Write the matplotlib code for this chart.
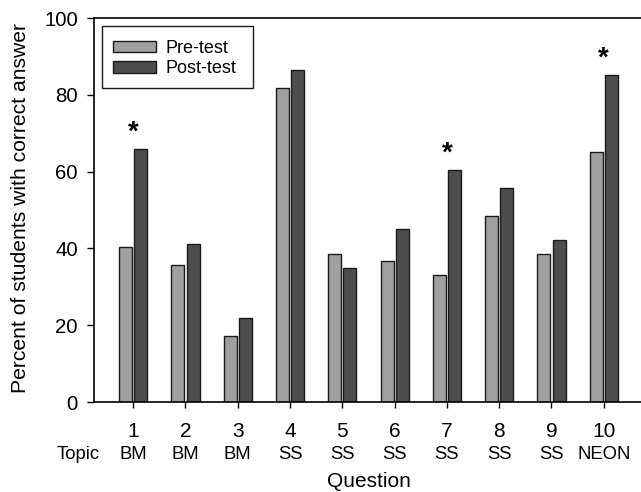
import matplotlib
matplotlib.use('Agg')
import matplotlib.pyplot as plt
from matplotlib.patches import Rectangle
import numpy as np

plt.rcParams['font.family'] = ['Liberation Sans', 'DejaVu Sans']

questions = ['1', '2', '3', '4', '5', '6', '7', '8', '9', '10']
topics = ['BM', 'BM', 'BM', 'SS', 'SS', 'SS', 'SS', 'SS', 'SS', 'NEON']
pre_test = [40.3, 35.8, 17.3, 81.7, 38.5, 36.6, 33.0, 48.5, 38.5, 65.0]
post_test = [65.9, 41.2, 21.9, 86.4, 34.8, 45.0, 60.4, 55.8, 42.2, 85.2]
significant = [1, 7, 10]  # questions marked with an asterisk

x = np.arange(1, len(questions) + 1)
width = 0.25
offset = 0.145

fig = plt.figure(figsize=(6.41, 4.92), dpi=100)
ax = fig.add_axes([0.1466, 0.1829, 0.8565, 0.7805])

ax.bar(x - offset, pre_test, width, color='#a0a0a0', edgecolor='#1a1a1a',
       linewidth=1.0, label='Pre-test')
ax.bar(x + offset, post_test, width, color='#4d4d4d', edgecolor='#1a1a1a',
       linewidth=1.0, label='Post-test')

# asterisks above the post-test bars
for q in significant:
    ax.text(q, post_test[q - 1] + 2.5, '*', ha='center', va='baseline',
            fontsize=20, fontweight='bold')

ax.set_xlim(0.25, 10.75)
ax.set_ylim(0, 100)
ax.set_yticks([0, 20, 40, 60, 80, 100])
ax.set_xticks(x)
ax.set_xticklabels(questions, fontsize=15)
ax.tick_params(axis='y', direction='out', length=5, width=1, labelsize=14.7, pad=6.5)
ax.tick_params(axis='x', direction='out', length=4.5, width=1, pad=10)

# topic row under question numbers
for xi, t in zip(x, topics):
    ax.text(xi, -13.6, t, ha='center', va='center', fontsize=13.3,
            transform=ax.transData, clip_on=False)
ax.text(-0.46, -13.6, 'Topic', ha='left', va='center', fontsize=13.3,
        transform=ax.transData, clip_on=False)

ax.set_xlabel('Question', fontsize=15, labelpad=22)
ax.set_ylabel('Percent of students with correct answer', fontsize=15.2)
ax.yaxis.set_label_coords(-0.117, 0.506)

for s in ax.spines.values():
    s.set_linewidth(1.2)

# legend with its own box
leg = ax.legend(loc='upper left', bbox_to_anchor=(0.0215, 0.962), frameon=False,
                fontsize=13, handlelength=2.38, handleheight=0.6,
                handletextpad=0.55, labelspacing=0.2, borderaxespad=0)
ax.add_patch(Rectangle((0.014, 0.8185), 0.275, 0.1615, transform=ax.transAxes,
                       fill=False, edgecolor='#1a1a1a', linewidth=1.0))

plt.savefig('out.png', dpi=100)
